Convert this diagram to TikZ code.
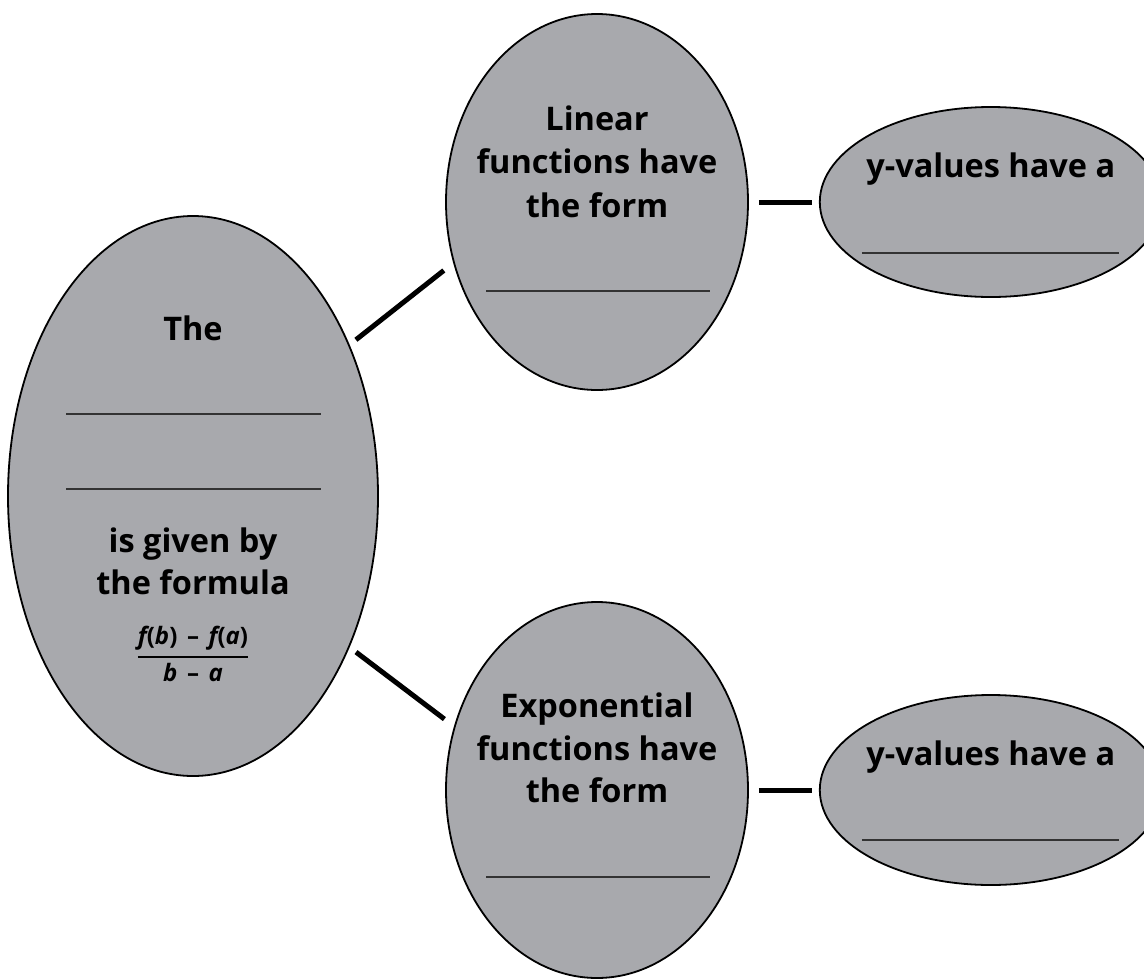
\documentclass[tikz,border=0pt]{standalone}
\usepackage{amsmath}
\usepackage{fontspec}
\setmainfont{Open Sans}
\usetikzlibrary{shapes.geometric,positioning}
\definecolor{bubblegray}{RGB}{168,169,173}

\begin{document}
\begin{tikzpicture}[x=1pt, y=-1pt,
		bubble/.style={ellipse,draw,line width=1.8pt,fill=bubblegray,inner sep=0pt},
		big node/.style={bubble,minimum width=370pt,minimum height=560pt},
		main node/.style={bubble,minimum width=302pt,minimum height=376pt},
		side node/.style={bubble,minimum width=342pt,minimum height=190pt},
		label/.style={font=\fontsize{32.5}{43}\selectfont\bfseries,align=center,anchor=base,inner sep=0pt},
		blank/.style={line width=1.4pt,draw=black!80},
		link/.style={line width=5pt}]

		\useasboundingbox (0,0) rectangle (1144,978);

		\node[big node] (Rate) at (193,496) {};
		\node[main node] (Lin) at (597,202) {};
		\node[main node] (Exp) at (597,790) {};
		\node[side node] (LinY) [right=70pt of Lin] {};
		\node[side node] (ExpY) [right=70pt of Exp] {};

		% texts
		\node[label] (t1) at ([yshift=156pt]Rate.center) {The};
		\node[label] (t2) at ([yshift=-56pt]Rate.center) {is given by};
		\node[label] (t3) at ([yshift=-98pt]Rate.center) {the formula};
		\node[inner sep=0pt,font=\fontsize{24}{28}\selectfont\bfseries] (frac) at ([yshift=-158pt]Rate.center)
			{$\genfrac{}{}{1.8pt}{0}{\text{\itshape f\upshape(\itshape b\upshape)\hspace{0.4em}–\hspace{0.4em}\itshape f\upshape(\itshape a\upshape)}}{\text{\itshape b\hspace{0.4em}\upshape–\hspace{0.4em}\itshape a}}$};
		\node[label] (l1) at ([yshift=72pt]Lin.center) {Linear};
		\node[label] (l2) at ([yshift=29pt]Lin.center) {functions have};
		\node[label] (l3) at ([yshift=-15pt]Lin.center) {the form};
		\node[label] (e1) at ([yshift=73pt]Exp.center) {Exponential};
		\node[label] (e2) at ([yshift=30pt]Exp.center) {functions have};
		\node[label] (e3) at ([yshift=-12pt]Exp.center) {the form};
		\node[label] (ly) at ([yshift=25pt]LinY.center) {y-values have a};
		\node[label] (ey) at ([yshift=25pt]ExpY.center) {y-values have a};

		% blanks to fill in
		\draw[blank] ([shift={(-127,-82)}]Rate.center) -- ++(255,0);
		\draw[blank] ([shift={(-127,-7)}]Rate.center) -- ++(255,0);
		\draw[blank] ([shift={(-111,89)}]Lin.center) -- ++(224,0);
		\draw[blank] ([shift={(-111,87)}]Exp.center) -- ++(224,0);
		\draw[blank] ([shift={(-129,51)}]LinY.center) -- ++(257,0);
		\draw[blank] ([shift={(-129,50)}]ExpY.center) -- ++(257,0);

		\path[link]
		(Rate.44.8) edge [shorten <=8pt, shorten >=12pt] (Lin.203.7)
		(Rate.-44.8) edge [shorten <=8pt, shorten >=12pt] (Exp.156.3)
		(Lin.east) edge [shorten <=10pt, shorten >=7pt] (LinY.west)
		(Exp.east) edge [shorten <=10pt, shorten >=7pt] (ExpY.west);
		\end{tikzpicture}
\end{document}
